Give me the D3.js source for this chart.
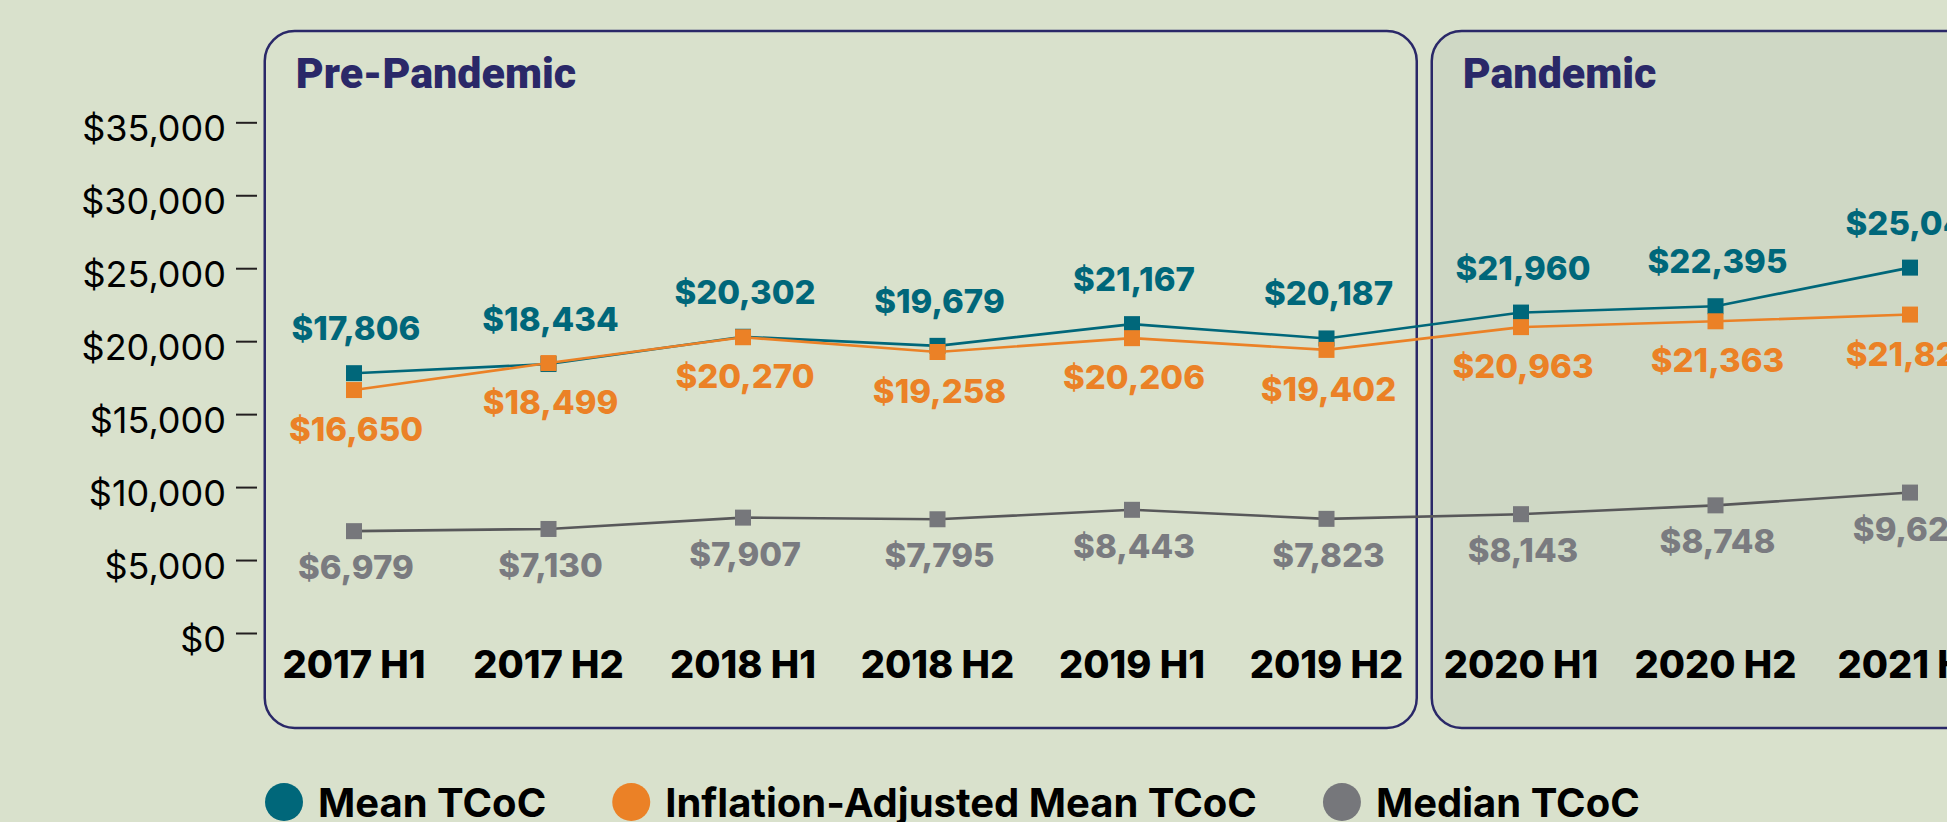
<!DOCTYPE html>
<html>
<head>
<meta charset="utf-8">
<script src="https://cdn.jsdelivr.net/npm/d3@7"></script>
<style>
  html, body { margin: 0; padding: 0; background: #d9e1cc; overflow: hidden; }
  svg { display: block; }
</style>
</head>
<body>
<svg id="chart" width="1947" height="822"></svg>
<script>
// Data
const periods = ["2017 H1", "2017 H2", "2018 H1", "2018 H2", "2019 H1", "2019 H2", "2020 H1", "2020 H2", "2021 H1"];
const meanTcoc = [17806, 18434, 20302, 19679, 21167, 20187, 21960, 22395, 25041];
const adjustedMeanTcoc = [16650, 18499, 20270, 19258, 20206, 19402, 20963, 21363, 21823];
const medianTcoc = [6979, 7130, 7907, 7795, 8443, 7823, 8143, 8748, 9624];
const yTicks = [0, 5000, 10000, 15000, 20000, 25000, 30000, 35000];

const phaseNames = ["Pre-Pandemic", "Pandemic"];
const phaseStarts = ["2017 H1", "2020 H1"];
const phaseEnds = ["2019 H2", "2021 H1"];

const seriesNames = ["Mean TCoC", "Inflation-Adjusted Mean TCoC", "Median TCoC"];

// Styling
const colors = {
  "Mean TCoC": "#00677a",
  "Inflation-Adjusted Mean TCoC": "#eb8126",
  "Median TCoC": "#76777b"
};
const lineColors = {
  "Mean TCoC": "#00677a",
  "Inflation-Adjusted Mean TCoC": "#eb8126",
  "Median TCoC": "#58585a"
};
const labelColors = {
  "Mean TCoC": "#00677a",
  "Inflation-Adjusted Mean TCoC": "#eb8126",
  "Median TCoC": "#7a7b80"
};
// label baseline offset from the marker centre
const labelOffset = {
  "Mean TCoC": -33,
  "Inflation-Adjusted Mean TCoC": 51,
  "Median TCoC": 48
};

const series = [
  { name: "Mean TCoC", values: meanTcoc },
  { name: "Inflation-Adjusted Mean TCoC", values: adjustedMeanTcoc },
  { name: "Median TCoC", values: medianTcoc }
];

const svg = d3.select("#chart");
const navy = "#2a2868";
const sansBold = "Inter, 'Noto Sans', sans-serif";

// Scales
const x = d3.scalePoint()
  .domain(periods)
  .range([354, 1910]);

const y = d3.scaleLinear()
  .domain([0, 35000])
  .range([633, 122.3]);

const step = x.step();

// Phase boxes
const phases = phaseNames.map((name, i) => ({
  name: name,
  x0: x(phaseStarts[i]) - step / 2 + 8,
  x1: x(phaseEnds[i]) + step / 2 - 7
}));

const boxes = svg.append("g").attr("class", "phases");

boxes.selectAll("rect")
  .data(phases)
  .enter()
  .append("rect")
  .attr("x", d => d.x0)
  .attr("y", 31)
  .attr("width", d => d.x1 - d.x0)
  .attr("height", 697)
  .attr("rx", 30)
  .attr("ry", 30)
  .attr("fill", (d, i) => i === 1 ? "#cfd8c5" : "none")
  .attr("stroke", navy)
  .attr("stroke-width", 2.5);

boxes.selectAll("text")
  .data(phases)
  .enter()
  .append("text")
  .attr("x", d => d.x0 + 31)
  .attr("y", 88)
  .style("font-family", "Roboto, sans-serif")
  .style("font-weight", 900)
  .style("font-size", "43px")
  .style("fill", navy)
  .text(d => d.name);

// Y axis
const yAxis = d3.axisLeft(y)
  .tickValues(yTicks)
  .tickSize(21)
  .tickPadding(10)
  .tickFormat(d => "$" + d3.format(",")(d));

const yg = svg.append("g")
  .attr("transform", "translate(257,0)")
  .call(yAxis);

yg.select(".domain").remove();
yg.selectAll(".tick line")
  .attr("stroke", "#231f20")
  .attr("stroke-width", 2);
yg.selectAll(".tick text")
  .attr("dy", "0.5em")
  .style("font-family", "Inter, sans-serif")
  .style("font-weight", 400)
  .style("font-size", "36px")
  .style("fill", "#000");

// X labels
svg.append("g")
  .attr("class", "x-labels")
  .selectAll("text")
  .data(periods)
  .enter()
  .append("text")
  .attr("x", d => x(d))
  .attr("y", 678)
  .attr("text-anchor", "middle")
  .style("font-family", sansBold)
  .style("font-weight", 800)
  .style("font-size", "38px")
  .style("fill", "#000")
  .text(d => d);

// Lines + markers
const line = d3.line()
  .x((d, i) => x(periods[i]))
  .y(d => y(d));

const seriesG = svg.selectAll(".series")
  .data(series)
  .enter()
  .append("g")
  .attr("class", "series");

seriesG.append("path")
  .attr("d", d => line(d.values))
  .attr("fill", "none")
  .attr("stroke", d => lineColors[d.name])
  .attr("stroke-width", 2.6);

seriesG.each(function(s) {
  const g = d3.select(this);

  g.selectAll("rect")
    .data(s.values)
    .enter()
    .append("rect")
    .attr("x", (d, i) => x(periods[i]) - 8)
    .attr("y", d => y(d) - 8)
    .attr("width", 16)
    .attr("height", 16)
    .attr("fill", colors[s.name]);

  g.selectAll("text")
    .data(s.values)
    .enter()
    .append("text")
    .attr("x", (d, i) => x(periods[i]) + 2)
    .attr("y", d => y(d) + labelOffset[s.name])
    .attr("text-anchor", "middle")
    .style("font-family", sansBold)
    .style("font-weight", 800)
    .style("font-size", "33px")
    .style("fill", labelColors[s.name])
    .text(d => "$" + d3.format(",")(d));
});

// Legend
const legend = svg.append("g").attr("class", "legend");
let lx = 265;
seriesNames.forEach(name => {
  legend.append("circle")
    .attr("cx", lx + 19)
    .attr("cy", 802)
    .attr("r", 19)
    .attr("fill", colors[name]);

  const t = legend.append("text")
    .attr("x", lx + 53)
    .attr("y", 817)
    .style("font-family", sansBold)
    .style("font-weight", 700)
    .style("font-size", "40px")
    .style("fill", "#000")
    .text(name);

  lx = lx + 53 + t.node().getComputedTextLength() + 66;
});
</script>
</body>
</html>
